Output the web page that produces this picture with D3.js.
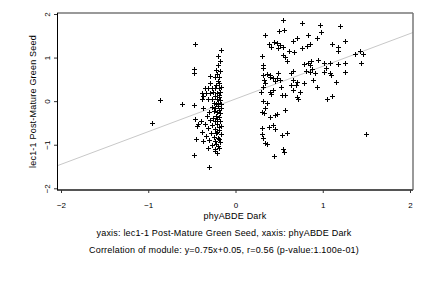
<!DOCTYPE html>
<html><head><meta charset="utf-8">
<script src="https://cdn.jsdelivr.net/npm/d3@7"></script>
<style>html,body{margin:0;padding:0;background:#fff;}svg{display:block;font-family:"Liberation Sans",Arial,sans-serif;}</style>
</head><body>
<svg id="c" width="432" height="288"></svg>
<script>
// Left cluster (phyABDE Dark x, lec1-1 Post-Mature Green Seed y)
const clusterA = [
[-0.96,-0.50],[-0.86,0.03],[-0.61,-0.06],[-0.48,-0.09],[-0.46,1.31],[-0.48,0.73],[-0.48,0.64],
[-0.17,1.17],[-0.20,1.04],[-0.18,0.92],[-0.22,0.72],[-0.18,0.70],[-0.29,0.58],[-0.23,0.56],[-0.19,0.56],[-0.20,0.46],[-0.19,0.42],[-0.29,0.42],
[-0.35,0.30],[-0.32,0.30],[-0.27,0.30],[-0.23,0.30],[-0.19,0.30],[-0.17,0.32],
[-0.38,0.19],[-0.34,0.19],[-0.29,0.19],[-0.26,0.21],[-0.21,0.19],[-0.18,0.22],
[-0.37,0.12],[-0.24,0.12],[-0.19,0.10],
[-0.38,0.05],[-0.32,0.05],[-0.27,0.05],[-0.21,0.05],[-0.18,0.02],
[-0.25,-0.04],[-0.20,-0.04],[-0.17,-0.06],
[-0.37,-0.16],[-0.27,-0.13],[-0.23,-0.15],[-0.20,-0.12],[-0.17,-0.16],
[-0.30,-0.24],[-0.25,-0.22],[-0.21,-0.25],[-0.18,-0.28],
[-0.33,-0.33],[-0.22,-0.34],[-0.19,-0.36],[-0.26,-0.38],
[-0.46,-0.42],[-0.40,-0.45],[-0.29,-0.44],[-0.23,-0.45],[-0.18,-0.46],
[-0.43,-0.53],[-0.44,-0.56],[-0.35,-0.52],[-0.27,-0.55],[-0.21,-0.52],[-0.17,-0.57],
[-0.31,-0.62],[-0.24,-0.63],[-0.19,-0.66],
[-0.38,-0.70],[-0.28,-0.72],[-0.22,-0.74],[-0.17,-0.76],
[-0.34,-0.80],[-0.25,-0.82],[-0.20,-0.84],
[-0.45,-0.87],[-0.37,-0.91],[-0.30,-0.90],[-0.23,-0.92],[-0.18,-0.94],
[-0.27,-1.00],[-0.20,-1.02],
[-0.32,-1.07],[-0.24,-1.09],[-0.19,-1.08],
[-0.23,-1.14],[-0.21,-1.18],
[-0.47,-1.23],[-0.30,-1.52],
[-0.20,0.82],[-0.21,0.62],[-0.22,0.38],[-0.19,0.15],[-0.22,-0.07],[-0.19,-0.20],[-0.21,-0.41],[-0.19,-0.60],[-0.21,-0.70],[-0.19,-0.88],[-0.22,-0.98]
];
// Right cluster
const clusterB = [
[0.54,1.86],[0.76,1.79],[0.97,1.75],[1.20,1.73],[0.34,1.52],[0.50,1.61],[0.56,1.63],[0.98,1.59],[0.83,1.52],[0.70,1.46],[0.66,1.38],[0.93,1.44],
[0.38,1.31],[0.41,1.24],[0.44,1.35],[0.48,1.34],[0.51,1.29],[0.55,1.24],[0.49,1.21],[0.61,1.14],[0.67,1.12],[0.76,1.21],[0.82,1.27],[0.85,1.31],
[0.55,1.06],[0.57,1.02],[0.59,0.91],[1.11,1.31],[1.17,1.24],[1.18,1.16],[1.25,1.38],[0.30,1.04],[0.32,0.83],[0.31,0.75],
[1.43,1.15],[1.46,1.08],[1.37,1.08],[1.44,0.88],
[0.79,0.85],[0.83,0.88],[0.85,0.83],[0.87,0.91],[0.94,0.94],[1.01,0.87],[1.08,0.88],[1.17,0.85],[1.26,0.88],
[0.66,0.69],[0.64,0.65],[0.81,0.70],[0.85,0.68],[0.88,0.73],[0.91,0.64],[1.01,0.68],[1.04,0.75],[1.08,0.65],[1.10,0.60],[1.26,0.68],
[0.32,0.60],[0.36,0.62],[0.39,0.60],[0.40,0.56],[0.43,0.53],[0.47,0.53],[0.49,0.64],[0.51,0.49],[0.45,0.47],[0.33,0.49],[0.34,0.41],
[0.66,0.49],[0.70,0.45],[0.78,0.41],[0.89,0.49],[0.93,0.33],[1.15,0.45],
[0.32,0.33],[0.29,0.22],[0.40,0.22],[0.41,0.17],[0.43,0.26],[0.52,0.33],[0.53,0.14],[0.57,0.14],[0.64,0.37],[0.66,0.26],[0.69,0.37],[0.70,0.10],[0.72,0.04],[0.74,0.22],
[1.05,0.04],[1.11,0.12],
[0.31,0.01],[0.36,-0.05],[0.34,-0.16],[0.30,-0.24],[0.33,-0.28],[0.39,-0.36],[0.45,-0.32],[0.47,-0.29],[0.57,-0.20],
[0.30,-0.62],[0.38,-0.60],[0.43,-0.55],[0.45,-0.64],
[0.30,-0.75],[0.31,-0.85],[0.34,-0.97],[0.36,-0.98],[0.53,-0.78],[0.59,-0.74],
[1.50,-0.75],[0.44,-1.25],[0.54,-1.10],[0.56,-1.16]
];
const xTicks = [-2,-1,0,1,2];
const yTicks = [-2,-1,0,1,2];
const fitSlope = 0.75, fitIntercept = 0.05;
const xLabel = "phyABDE Dark";
const yLabel = "lec1-1 Post-Mature Green Seed";
const subtitle1 = "yaxis: lec1-1 Post-Mature Green Seed, xaxis: phyABDE Dark";
const subtitle2 = "Correlation of module: y=0.75x+0.05, r=0.56 (p-value:1.100e-01)";

const svg = d3.select("#c");
const x = d3.scaleLinear().domain([-2,2]).range([61,410]);
const y = d3.scaleLinear().domain([-2,2]).range([188.3,14]);
const L = 57, R = 413, T = 13, B = 190;
const xDom = [x.invert(L), x.invert(R)];

svg.append("defs").append("clipPath").attr("id","clip")
  .append("rect").attr("x",L).attr("y",T).attr("width",R-L).attr("height",B-T);

// regression line
svg.append("line").attr("clip-path","url(#clip)")
  .attr("x1",x(xDom[0])).attr("y1",y(fitSlope*xDom[0]+fitIntercept))
  .attr("x2",x(xDom[1])).attr("y2",y(fitSlope*xDom[1]+fitIntercept))
  .attr("stroke","#c8c8c8").attr("stroke-width",1);

// points
const pts = clusterA.concat(clusterB);
const s = 2.5;
svg.append("g").selectAll("path").data(pts).join("path")
  .attr("d", d => {const cx = Math.round(x(d[0]))+0.5, cy = Math.round(y(d[1]))+0.5;
    return `M${cx-s},${cy}H${cx+s}M${cx},${cy-s}V${cy+s}`;})
  .attr("stroke","#000").attr("stroke-width",1).attr("fill","none");

// frame
svg.append("line").attr("x1",L).attr("x2",R).attr("y1",T).attr("y2",T).attr("stroke","#999").attr("stroke-width",2);
svg.append("line").attr("x1",R).attr("x2",R).attr("y1",T).attr("y2",B).attr("stroke","#777").attr("stroke-width",1.5);
svg.append("line").attr("x1",L).attr("x2",R).attr("y1",B).attr("y2",B).attr("stroke","#555").attr("stroke-width",2);
svg.append("line").attr("x1",L+0.5).attr("x2",L+0.5).attr("y1",T).attr("y2",B).attr("stroke","#000").attr("stroke-width",1);

// axes
const xa = svg.append("g").attr("transform",`translate(0,${B})`)
  .call(d3.axisBottom(x).tickValues(xTicks).tickSize(3).tickPadding(0).tickFormat(d3.format("d")));
xa.select(".domain").remove();
xa.selectAll("text").attr("dy",null).attr("y",18).attr("font-size","8px").attr("font-family","Liberation Sans, Arial, sans-serif").attr("fill","#000");
xa.selectAll("line").attr("stroke","#333");

const ya = svg.append("g").attr("transform",`translate(${L},0)`)
  .call(d3.axisLeft(y).tickValues(yTicks).tickSize(3).tickFormat(d3.format("d")));
ya.select(".domain").remove();
ya.selectAll("line").attr("stroke","#333");
ya.selectAll("text").attr("x",null).attr("dy",null).attr("text-anchor","middle")
  .attr("transform","translate(-7.5,0) rotate(-90)").attr("y",0)
  .attr("font-size","8px").attr("font-family","Liberation Sans, Arial, sans-serif").attr("fill","#000");

// titles
svg.append("text").attr("x",235).attr("y",218.5).attr("text-anchor","middle")
  .attr("font-size","9px").attr("letter-spacing","0.2px").text(xLabel);
svg.append("text").attr("transform","translate(36,101.5) rotate(-90)").attr("text-anchor","middle")
  .attr("font-size","9px").attr("letter-spacing","0.2px").text(yLabel);
svg.append("text").attr("x",224).attr("y",236).attr("text-anchor","middle")
  .attr("font-size","9px").attr("letter-spacing","0.2px").text(subtitle1);
svg.append("text").attr("x",224).attr("y",253).attr("text-anchor","middle")
  .attr("font-size","9px").attr("letter-spacing","0.2px").text(subtitle2);
</script>
</body></html>
